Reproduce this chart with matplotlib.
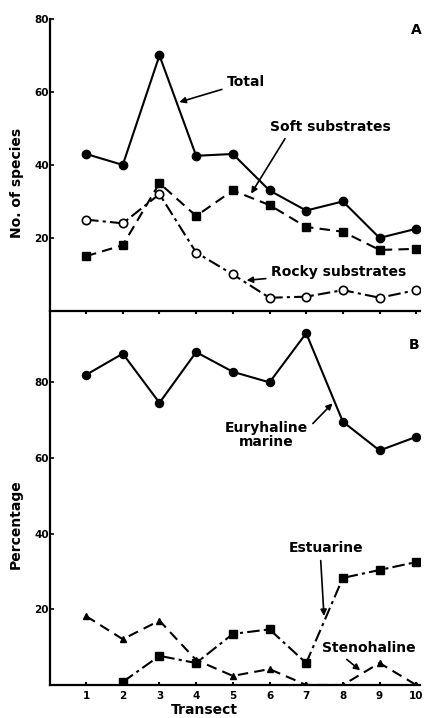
import numpy as np
import matplotlib
matplotlib.use("Agg")
from matplotlib import pyplot as plt

plt.rcParams['font.family'] = ['DejaVu Sans']
plt.rcParams['font.weight'] = 'bold'
plt.rcParams['axes.labelweight'] = 'bold'

transect = [1, 2, 3, 4, 5, 6, 7, 8, 9, 10]

# panel A - number of species
total = [43, 40, 70, 42.5, 43, 33, 27.5, 30, 20, 22.5]
soft = [15, 18, 35, 26, 33, 29, 23, 21.7, 16.7, 17]
rocky = [25, 24, 32, 16, 10, 3.6, 3.9, 5.7, 3.6, 5.7]

# panel B - percentage
euryhaline = [82, 87.6, 74.6, 88, 82.8, 80, 93, 69.6, 62, 65.6]
estuarine = [np.nan, 0.8, 7.7, 5.8, 13.5, 14.7, 5.8, 28.3, 30.4, 32.5]
stenohaline = [18.2, 12.1, 17, 6.6, 2.4, 4.2, 0, 0, 5.8, 0]

fig = plt.figure(figsize=(4.25, 7.18), dpi=100)
axA = fig.add_axes([0.118, 0.567, 0.870, 0.4066])
axB = fig.add_axes([0.118, 0.046, 0.870, 0.521])

lw = 1.5
axA.plot(transect, total, '-', color='black', lw=lw, marker='o', ms=6)
axA.plot(transect, soft, color='black', lw=lw, ls=(0, (5, 3)), marker='s', ms=5.2)
axA.plot(transect, rocky, color='black', lw=lw, ls=(0, (6, 2, 1.5, 2)), marker='o', ms=6,
         mfc='white', mec='black', mew=1.2)

axB.plot(transect, euryhaline, '-', color='black', lw=lw, marker='o', ms=5.8)
axB.plot(transect, estuarine, color='black', lw=lw, ls=(0, (6, 2, 1.5, 2)), marker='s', ms=5.2)
axB.plot(transect, stenohaline, color='black', lw=lw, ls=(0, (5, 3)), marker='^', ms=5)

for ax in (axA, axB):
    ax.set_xlim(0.02, 10.1)
    ax.spines['top'].set_visible(False)
    ax.spines['right'].set_visible(False)
    ax.spines['left'].set_linewidth(1.6)
    ax.spines['bottom'].set_linewidth(1.6)
    ax.set_xticks(transect)
    ax.set_facecolor('none')
    ax.tick_params(axis='y', direction='in', length=3, width=1.2, pad=1, labelsize=7.5)

axA.set_ylim(0, 80)
axA.set_yticks([20, 40, 60, 80])
axA.tick_params(axis='x', direction='out', length=2, width=1.5, labelbottom=False)
axA.set_ylabel('No. of species', fontsize=10)
axA.yaxis.set_label_coords(-0.07, 0.44)

axB.set_ylim(0, 98.9)
axB.set_yticks([20, 40, 60, 80])
axB.tick_params(axis='x', direction='in', length=2.5, width=1.5, pad=4, labelsize=7.5)
axB.set_ylabel('Percentage', fontsize=10)
axB.yaxis.set_label_coords(-0.075, 0.43)
axB.set_xlabel('Transect', fontsize=10, labelpad=0)
axB.xaxis.set_label_coords(0.416, -0.048)

axA.text(10.0, 77, 'A', fontsize=10, ha='center', va='center')
axB.text(9.94, 90, 'B', fontsize=10, ha='center', va='center')

arrow = dict(arrowstyle='-|>', color='black', lw=1.2, mutation_scale=9)
fs = 10
axA.annotate('Total', xy=(3.47, 57), xytext=(4.85, 62.7), fontsize=fs,
             ha='left', va='center', arrowprops=arrow)
axA.annotate('Soft substrates', xy=(5.46, 31.5), xytext=(7.66, 50.5), fontsize=fs,
             ha='center', va='center',
             arrowprops=dict(arrow, relpos=(0.15, 0.0)))
axA.annotate('Rocky substrates', xy=(5.3, 8.3), xytext=(6.05, 10.7), fontsize=fs,
             ha='left', va='center', arrowprops=arrow)

axB.annotate('Euryhaline\nmarine', xy=(7.77, 75), xytext=(5.92, 66), fontsize=fs,
             ha='center', va='center', linespacing=1.0,
             arrowprops=dict(arrow, relpos=(1.0, 0.75)))
axB.annotate('Estuarine', xy=(7.49, 17.5), xytext=(7.55, 36.2), fontsize=fs,
             ha='center', va='center',
             arrowprops=dict(arrow, relpos=(0.42, 0.0)))
axB.annotate('Stenohaline', xy=(8.53, 3.4), xytext=(8.72, 9.8), fontsize=fs,
             ha='center', va='center',
             arrowprops=dict(arrow, relpos=(0.2, 0.0)))

fig.savefig('out.png', dpi=100)
